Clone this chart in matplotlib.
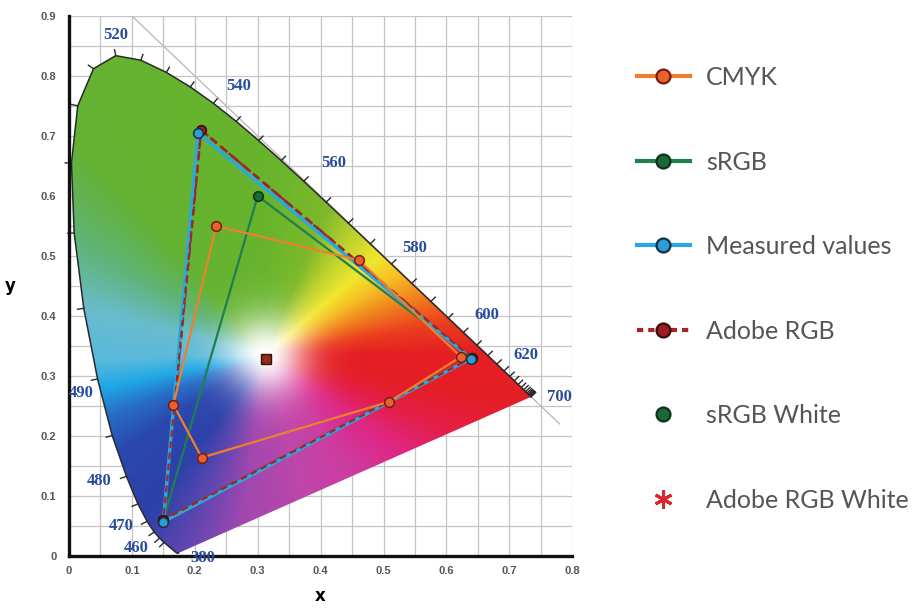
import numpy as np
import matplotlib
matplotlib.use("Agg")
import matplotlib.pyplot as plt
from matplotlib.lines import Line2D
from matplotlib.patches import Polygon

# CIE 1931 spectral locus (2 deg), 5 nm steps
wavelengths = list(range(380, 701, 5))
locus_x = [0.1741, 0.1740, 0.1738, 0.1736, 0.1733, 0.1730, 0.1726, 0.1721, 0.1714, 0.1703,
           0.1689, 0.1669, 0.1644, 0.1611, 0.1566, 0.1510, 0.1440, 0.1355, 0.1241, 0.1096,
           0.0913, 0.0687, 0.0454, 0.0235, 0.0082, 0.0039, 0.0139, 0.0389, 0.0743, 0.1142,
           0.1547, 0.1929, 0.2296, 0.2658, 0.3016, 0.3373, 0.3731, 0.4087, 0.4441, 0.4788,
           0.5125, 0.5448, 0.5752, 0.6029, 0.6270, 0.6482, 0.6658, 0.6801, 0.6915, 0.7006,
           0.7079, 0.7140, 0.7190, 0.7230, 0.7260, 0.7283, 0.7300, 0.7311, 0.7320, 0.7327,
           0.7334, 0.7340, 0.7344, 0.7346, 0.7347]
locus_y = [0.0050, 0.0050, 0.0049, 0.0049, 0.0048, 0.0048, 0.0048, 0.0048, 0.0051, 0.0058,
           0.0069, 0.0086, 0.0109, 0.0138, 0.0177, 0.0227, 0.0297, 0.0399, 0.0578, 0.0868,
           0.1327, 0.2007, 0.2950, 0.4127, 0.5384, 0.6548, 0.7502, 0.8120, 0.8338, 0.8262,
           0.8059, 0.7816, 0.7543, 0.7243, 0.6923, 0.6589, 0.6245, 0.5896, 0.5547, 0.5202,
           0.4866, 0.4544, 0.4242, 0.3965, 0.3725, 0.3514, 0.3340, 0.3197, 0.3083, 0.2993,
           0.2920, 0.2859, 0.2809, 0.2770, 0.2740, 0.2717, 0.2700, 0.2689, 0.2680, 0.2673,
           0.2666, 0.2660, 0.2656, 0.2654, 0.2653]
label_wls = [380, 460, 470, 480, 490, 520, 540, 560, 580, 600, 620, 700]

cmyk_x = [0.234, 0.461, 0.623, 0.509, 0.211, 0.166]
cmyk_y = [0.550, 0.493, 0.332, 0.257, 0.164, 0.252]
srgb_x = [0.640, 0.300, 0.150]
srgb_y = [0.330, 0.600, 0.060]
meas_x = [0.639, 0.205, 0.150]
meas_y = [0.329, 0.705, 0.057]
adobe_x = [0.640, 0.210, 0.150]
adobe_y = [0.330, 0.710, 0.060]
white_x = [0.3127]
white_y = [0.3290]

names = ["CMYK", "sRGB", "Measured values", "Adobe RGB", "sRGB White", "Adobe RGB White"]

# hue stops (angle around white point, degrees) for the painted background
hue_ang = [0, 10, 20, 32, 42, 55, 68, 90, 130, 148, 165, 182, 192, 202, 215, 235, 248,
           262, 285, 305, 322, 337, 348, 360]
hue_rgb = [(228, 30, 35), (235, 60, 30), (240, 120, 30), (245, 190, 35), (242, 230, 45),
           (190, 210, 45), (125, 185, 42), (104, 180, 44), (100, 178, 50), (95, 180, 120),
           (105, 188, 205), (90, 185, 220), (30, 168, 230), (40, 110, 200), (42, 72, 175),
           (45, 65, 170), (95, 70, 175), (160, 72, 175), (190, 70, 170), (205, 60, 160),
           (222, 40, 135), (228, 30, 70), (228, 30, 38), (228, 30, 35)]

fig = plt.figure(figsize=(9.2, 6.12), dpi=100)
ax = fig.add_axes([0.075, 0.0915, 0.547, 0.8825])
ax.set_xlim(0, 0.8)
ax.set_ylim(0, 0.9)

# grid
ax.set_xticks(np.arange(0, 0.81, 0.1))
ax.set_yticks(np.arange(0, 0.91, 0.1))
ax.set_xticks(np.arange(0.05, 0.8, 0.1), minor=True)
ax.set_yticks(np.arange(0.05, 0.9, 0.1), minor=True)
ax.set_xticklabels(["0", "0.1", "0.2", "0.3", "0.4", "0.5", "0.6", "0.7", "0.8"])
ax.set_yticklabels(["0", "0.1", "0.2", "0.3", "0.4", "0.5", "0.6", "0.7", "0.8", "0.9"])
ax.grid(True, which="both", color="#c4c4c4", lw=0.9, zorder=0)
ax.set_axisbelow(True)
ax.tick_params(which="both", length=0)
ax.tick_params(axis="y", pad=9)
ax.tick_params(axis="x", pad=7)
for lab in ax.get_xticklabels() + ax.get_yticklabels():
    lab.set_fontfamily("Liberation Sans")
    lab.set_fontweight("bold")
    lab.set_fontsize(8)
    lab.set_color("#555555")
for s in ["top", "right"]:
    ax.spines[s].set_visible(False)
for s in ["left", "bottom"]:
    ax.spines[s].set_linewidth(2.4)
    ax.spines[s].set_color("#111111")
    ax.spines[s].set_zorder(6)

ax.set_xlabel("x", fontsize=12, fontweight="bold", labelpad=8)
ax.set_ylabel("y", fontsize=12, fontweight="bold", rotation=0, labelpad=22, va="center")

# diagonal x + y = 1
ax.plot([0.1, 0.78], [0.9, 0.22], color="#bdbdbd", lw=1.0, zorder=1)

# painted chromaticity background
gx = np.linspace(0, 0.8, 640)
gy = np.linspace(0, 0.9, 720)
X, Y = np.meshgrid(gx, gy)
dx = X - 0.312
dy = Y - 0.335
ang = np.degrees(np.arctan2(dy, dx)) % 360
dist = np.hypot(dx, dy)
hue = np.array(hue_rgb) / 255.0
rgb = np.stack([np.interp(ang, hue_ang, hue[:, k]) for k in range(3)], axis=-1)
w = np.exp(-(dist / 0.065) ** 2)[..., None]
rgb = rgb * (1 - w) + w
im = ax.imshow(rgb, extent=(0, 0.8, 0, 0.9), origin="lower", aspect="auto",
               interpolation="bilinear", zorder=2)
poly = Polygon(np.column_stack([locus_x, locus_y]), closed=True,
               transform=ax.transData, facecolor="none", edgecolor="none")
ax.add_patch(poly)
im.set_clip_path(poly)

# locus outline and wavelength ticks
ax.plot(locus_x, locus_y, color="#2a2a2a", lw=1.1, zorder=3)
lx = np.array(locus_x)
ly = np.array(locus_y)
for i, wl in enumerate(wavelengths):
    if wl < 455 or i == 0 or i == len(wavelengths) - 1:
        continue
    tx = lx[i + 1] - lx[i - 1]
    ty = ly[i + 1] - ly[i - 1]
    n = np.hypot(tx, ty)
    nx_, ny_ = -ty / n, tx / n
    ax.plot([lx[i], lx[i] + nx_ * 0.010], [ly[i], ly[i] + ny_ * 0.010],
            color="#2a2a2a", lw=1.0, zorder=3, clip_on=False)

label_offsets = {380: (24, -5), 460: (-23, -10), 470: (-26, -5), 480: (-27, -5),
                 490: (-16, -14), 520: (0, 21), 540: (25, 17), 560: (30, 18),
                 580: (23, 16), 600: (23, 17), 620: (22, 16), 700: (28, 0)}
for wl in label_wls:
    i = wavelengths.index(wl)
    ax.annotate(str(wl), (locus_x[i], locus_y[i]), xytext=label_offsets[wl],
                textcoords="offset pixels", ha="center", va="center",
                fontsize=12, fontweight="bold", family="Liberation Serif",
                color="#284c9a", zorder=7, annotation_clip=False)

# gamut triangles
c_cmyk = dict(line="#ee7f2d", face="#e8632b", edge="#7a1a12")
c_srgb = dict(line="#1f7f4f", face="#1a6a38", edge="#0c3018")
c_meas = dict(line="#2aa8e0", face="#2b9ed8", edge="#15303f")
c_adobe = dict(line="#9a2a2a", face="#9c1c1f", edge="#3a0a0a")

def tri(xs, ys, c, z, lw=2.0, ls="-", ms=7):
    ax.plot(xs + xs[:1], ys + ys[:1], color=c["line"], lw=lw, ls=ls, zorder=z,
            solid_capstyle="round")
    ax.plot(xs, ys, ls="none", marker="o", ms=ms, mfc=c["face"], mec=c["edge"],
            mew=1.1, zorder=z + 0.5)

tri(srgb_x, srgb_y, c_srgb, 4, lw=1.6)
tri(adobe_x, adobe_y, c_adobe, 4.2, lw=2.0, ls=(0, (3, 2)))
tri(meas_x, meas_y, c_meas, 4.4, lw=2.4)
ax.plot(adobe_x[:2] + adobe_x[2:] + adobe_x[:1], adobe_y[:2] + adobe_y[2:] + adobe_y[:1],
        color=c_adobe["line"], lw=1.6, ls=(0, (3, 2)), zorder=4.6)
tri(cmyk_x, cmyk_y, c_cmyk, 5, lw=1.6)
ax.plot(white_x, white_y, ls="none", marker="s", ms=7, mfc="#7a2a18", mec="#3a1208",
        mew=1.0, zorder=6)
ax.plot(white_x, white_y, ls="none", marker=(6, 2, 0), ms=6, color="#a02a1a",
        mew=1.1, zorder=6.5)

# legend
handles = [
    Line2D([], [], color=c_cmyk["line"], lw=3, marker="o", ms=10, mfc=c_cmyk["face"],
           mec=c_cmyk["edge"], mew=1.6),
    Line2D([], [], color=c_srgb["line"], lw=3, marker="o", ms=10, mfc=c_srgb["face"],
           mec=c_srgb["edge"], mew=1.6),
    Line2D([], [], color=c_meas["line"], lw=3, marker="o", ms=10, mfc=c_meas["face"],
           mec=c_meas["edge"], mew=1.6),
    Line2D([], [], color="#a3252f", lw=3, ls=(0, (1.5, 1.2)), marker="o", ms=10,
           mfc=c_adobe["face"], mec=c_adobe["edge"], mew=1.6),
    Line2D([], [], ls="none", marker="o", ms=10, mfc=c_srgb["face"], mec=c_srgb["edge"],
           mew=1.6),
    Line2D([], [], ls="none", marker=(6, 2, 0), ms=13, color="#d8262b", mew=2.2),
]
leg = fig.legend(handles, names, loc="upper left", bbox_to_anchor=(0.6924, 0.892),
                 frameon=False, prop={"family": "Lato", "size": 18},
                 labelspacing=2.46, handlelength=2.1, handletextpad=0.67,
                 borderpad=0, borderaxespad=0)
for t in leg.get_texts():
    t.set_color("#555555")

fig.savefig("out.png", dpi=100)
